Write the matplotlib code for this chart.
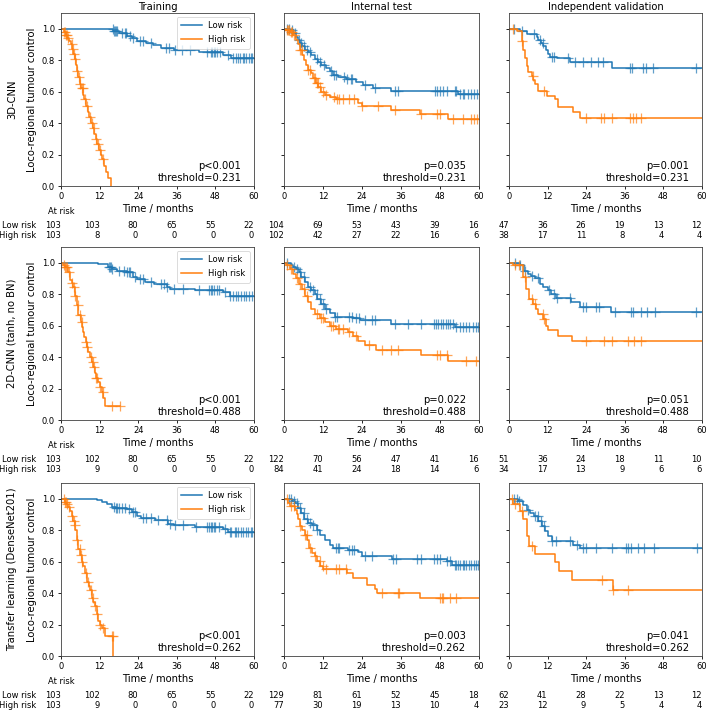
import numpy as np
import matplotlib
matplotlib.use("Agg")
import matplotlib.pyplot as plt
from matplotlib.transforms import blended_transform_factory

# Kaplan-Meier curves: step times (months), survival after
# each step, and censoring times. Last entry of *_t is where the curve ends.

# ---------------- 3D-CNN ----------------
cnn3d_train_low_t = [0, 16.3, 18.0, 20.5, 22.0, 23.5, 26.5, 28.5, 31.0, 35.0, 43.0, 50.5, 53.0, 60]
cnn3d_train_low_s = [1.0, 0.985, 0.97, 0.955, 0.94, 0.925, 0.91, 0.895, 0.875, 0.865, 0.855, 0.835, 0.815, 0.815]
cnn3d_train_low_cens = [16.2, 16.5, 16.8, 17.2, 17.5, 19.0, 19.8, 20.3, 21.5, 22.5, 24.5, 25.5, 28.0, 32.5,
                        33.5, 35.5, 37.5, 40.0, 45.5, 46.5, 47.0, 47.5, 48.0, 48.5, 49.5, 52.0, 53.5, 54.5,
                        55.0, 55.5, 56.5, 57.0, 57.5, 58.5, 59.0, 59.5]
cnn3d_train_high_t = [0, 1.0, 1.5, 2.0, 2.5, 3.0, 3.4, 3.8, 4.2, 4.6, 5.0, 5.4, 5.8, 6.3, 6.8, 7.3, 7.8, 8.3,
                      8.8, 9.3, 9.8, 10.3, 10.8, 11.3, 11.8, 12.3, 12.8, 13.4, 14.0, 14.6, 15.5]
cnn3d_train_high_s = [1.0, 0.98, 0.96, 0.94, 0.92, 0.9, 0.87, 0.84, 0.81, 0.77, 0.73, 0.69, 0.65, 0.62, 0.58,
                      0.55, 0.51, 0.47, 0.44, 0.40, 0.37, 0.33, 0.30, 0.27, 0.23, 0.20, 0.17, 0.13, 0.09,
                      0.05, 0.0]
cnn3d_train_high_cens = [1.0, 1.3, 1.6, 1.9, 2.2, 3.3, 3.7, 4.0, 4.4, 5.0, 5.6, 6.0, 6.4, 6.7, 7.5, 8.2,
                         9.0, 9.6, 10.2, 10.9, 11.5, 12.1, 13.1]

cnn3d_test_low_t = [0, 1.7, 2.8, 3.8, 4.3, 5.0, 5.6, 6.4, 7.4, 8.4, 9.4, 10.5, 11.5, 13.0, 14.0, 15.0, 16.6,
                    19.2, 22.3, 24.3, 27.4, 33.0, 53.5, 60]
cnn3d_test_low_s = [1.0, 0.99, 0.97, 0.95, 0.93, 0.91, 0.887, 0.866, 0.85, 0.834, 0.81, 0.79, 0.77, 0.75,
                    0.73, 0.706, 0.69, 0.68, 0.664, 0.643, 0.62, 0.604, 0.583, 0.583]
cnn3d_test_low_cens = [1.0, 1.5, 2.5, 3.3, 4.5, 5.2, 6.0, 7.0, 8.0, 10.0, 11.0, 12.2, 14.5, 15.5, 16.0,
                       18.5, 19.5, 20.5, 21.0, 25.0, 28.0, 34.0, 35.0, 46.5, 47.0, 48.0, 49.0, 50.0, 52.5,
                       53.0, 54.0, 55.0, 55.5, 56.5, 57.5, 58.5, 59.5]
cnn3d_test_high_t = [0, 0.7, 1.7, 2.8, 3.8, 4.3, 4.8, 5.6, 6.0, 6.7, 7.4, 8.4, 8.9, 9.7, 10.5, 11.5, 12.5,
                     14.0, 16.1, 22.8, 24.0, 33.0, 41.7, 50.5, 60]
cnn3d_test_high_s = [1.0, 0.99, 0.98, 0.96, 0.93, 0.90, 0.866, 0.834, 0.80, 0.77, 0.74, 0.717, 0.685, 0.653,
                     0.628, 0.60, 0.58, 0.564, 0.551, 0.526, 0.51, 0.483, 0.457, 0.426, 0.426]
cnn3d_test_high_cens = [0.8, 1.2, 1.6, 2.0, 2.5, 3.0, 5.0, 5.5, 7.5, 8.0, 9.2, 9.6, 10.0, 10.4, 11.0, 12.0,
                        13.0, 15.5, 16.2, 16.8, 18.0, 20.0, 21.5, 24.0, 29.0, 34.0, 42.0, 47.0, 48.0, 52.0,
                        55.0, 57.5, 58.5, 59.5]

cnn3d_val_low_t = [0, 3.4, 5.5, 8.6, 9.1, 9.8, 10.7, 11.5, 12.2, 12.7, 15.0, 19.0, 31.9, 60]
cnn3d_val_low_s = [1.0, 0.983, 0.966, 0.947, 0.93, 0.91, 0.887, 0.866, 0.84, 0.823, 0.813, 0.79, 0.749, 0.749]
cnn3d_val_low_cens = [1.5, 4.0, 7.8, 9.5, 10.5, 13.3, 14.0, 18.4, 20.5, 23.0, 25.6, 27.7, 29.2, 37.6, 38.3,
                      41.7, 42.7, 44.8, 58.2]
cnn3d_val_high_t = [0, 2.4, 3.9, 4.4, 4.9, 5.5, 6.0, 7.0, 7.6, 8.1, 9.1, 11.7, 14.3, 15.3, 20.0, 22.0, 60]
cnn3d_val_high_s = [1.0, 0.983, 0.92, 0.866, 0.813, 0.76, 0.728, 0.70, 0.674, 0.65, 0.606, 0.574, 0.55,
                    0.504, 0.472, 0.43, 0.43]
cnn3d_val_high_cens = [1.2, 4.0, 7.5, 10.8, 24.0, 28.5, 29.5, 32.0, 37.5, 38.5, 39.5, 41.0]

# ---------------- 2D-CNN ----------------
cnn2d_train_low_t = [0, 11.6, 14.5, 16.0, 17.5, 20.4, 22.5, 23.5, 26.0, 29.0, 32.8, 34.0, 41.7, 50.5, 52.5, 60]
cnn2d_train_low_s = [1.0, 0.99, 0.975, 0.96, 0.95, 0.94, 0.91, 0.895, 0.88, 0.866, 0.845, 0.834, 0.824,
                     0.813, 0.79, 0.79]
cnn2d_train_low_cens = [14.8, 15.2, 15.6, 16.0, 18.0, 19.5, 20.5, 21.0, 21.5, 23.0, 24.5, 25.5, 28.0, 31.0,
                        32.0, 33.0, 35.0, 38.0, 43.0, 46.0, 46.5, 47.0, 47.5, 48.5, 49.0, 51.0, 52.5, 53.5,
                        54.5, 55.0, 56.0, 57.0, 57.5, 58.5, 59.5]
cnn2d_train_high_t = [0, 0.7, 1.2, 2.3, 2.8, 3.3, 3.8, 4.4, 4.9, 5.4, 6.1, 6.5, 6.9, 7.3, 7.7, 8.1, 8.5,
                      9.0, 9.5, 10.0, 10.6, 11.0, 11.4, 12.0, 12.6, 13.2, 13.7, 18.3]
cnn2d_train_high_s = [1.0, 0.985, 0.97, 0.94, 0.89, 0.87, 0.845, 0.79, 0.73, 0.665, 0.62, 0.59, 0.56, 0.53,
                      0.495, 0.465, 0.43, 0.40, 0.367, 0.335, 0.30, 0.27, 0.24, 0.21, 0.18, 0.14, 0.09, 0.09]
cnn2d_train_high_cens = [0.8, 1.2, 1.6, 2.0, 2.5, 3.5, 4.0, 4.5, 5.2, 6.0, 6.4, 7.8, 8.2, 9.2, 9.8, 10.3,
                         11.0, 11.3, 12.0, 13.0, 15.9, 18.3]

cnn2d_test_low_t = [0, 2.3, 2.8, 3.8, 4.5, 5.3, 6.4, 7.4, 8.4, 9.4, 10.3, 11.3, 12.5, 14.0, 15.6, 21.2,
                    23.3, 33.0, 52.5, 60]
cnn2d_test_low_s = [1.0, 0.983, 0.972, 0.96, 0.94, 0.91, 0.877, 0.845, 0.824, 0.803, 0.77, 0.739, 0.707,
                    0.68, 0.658, 0.647, 0.633, 0.611, 0.59, 0.59]
cnn2d_test_low_cens = [1.0, 3.0, 4.0, 5.0, 6.0, 8.0, 9.0, 10.0, 11.0, 12.0, 13.0, 15.8, 16.2, 20.0, 21.0,
                       22.0, 23.0, 25.0, 27.0, 28.0, 34.0, 38.0, 42.0, 46.0, 46.8, 47.5, 48.2, 49.0, 49.8,
                       50.5, 51.2, 52.0, 53.0, 54.0, 55.0, 56.0, 57.0, 58.0, 59.0, 59.8]
cnn2d_test_high_t = [0, 0.7, 1.7, 2.8, 3.8, 4.5, 5.5, 6.4, 7.4, 8.4, 9.4, 11.0, 12.5, 14.0, 16.1, 19.7,
                     21.2, 22.8, 24.8, 28.4, 42.3, 50.5, 60]
cnn2d_test_high_s = [1.0, 0.983, 0.96, 0.93, 0.90, 0.866, 0.834, 0.79, 0.75, 0.707, 0.675, 0.648, 0.622,
                     0.60, 0.58, 0.558, 0.537, 0.505, 0.478, 0.442, 0.414, 0.378, 0.378]
cnn2d_test_high_cens = [1.0, 2.0, 4.0, 5.0, 6.0, 7.0, 10.0, 11.5, 12.0, 14.5, 15.0, 16.5, 17.0, 18.0, 20.0,
                        22.0, 26.0, 30.0, 33.0, 35.0, 47.0, 48.0, 50.0, 56.0, 59.0]

cnn2d_val_low_t = [0, 3.3, 4.6, 5.9, 6.9, 8.0, 9.5, 10.6, 12.1, 13.2, 14.7, 19.4, 22.0, 31.8, 60]
cnn2d_val_low_s = [1.0, 0.983, 0.95, 0.93, 0.915, 0.90, 0.866, 0.845, 0.824, 0.80, 0.775, 0.75, 0.72,
                   0.685, 0.685]
cnn2d_val_low_cens = [2.0, 3.5, 5.0, 7.0, 9.0, 12.5, 14.0, 15.0, 19.0, 23.0, 24.0, 27.0, 28.0, 33.0, 38.0,
                      38.5, 41.0, 43.0, 45.5, 58.0]
cnn2d_val_high_t = [0, 1.2, 4.4, 5.4, 6.2, 7.5, 8.5, 9.0, 10.6, 11.6, 12.2, 15.2, 19.7, 60]
cnn2d_val_high_s = [1.0, 0.983, 0.91, 0.834, 0.77, 0.74, 0.707, 0.675, 0.643, 0.60, 0.57, 0.533, 0.50, 0.50]
cnn2d_val_high_cens = [2.0, 3.0, 5.0, 7.0, 8.0, 10.5, 11.0, 24.0, 29.5, 32.0, 37.0, 39.0, 41.0]

# ---------------- Transfer learning (DenseNet201) ----------------
tl_train_low_t = [0, 11.1, 12.6, 14.2, 15.8, 17.0, 20.4, 22.0, 23.5, 25.0, 29.2, 33.4, 35.0, 41.7, 50.5, 52.0, 60]
tl_train_low_s = [1.0, 0.99, 0.98, 0.968, 0.95, 0.94, 0.936, 0.915, 0.89, 0.877, 0.866, 0.84, 0.83, 0.82,
                  0.81, 0.787, 0.787]
tl_train_low_cens = [16.5, 17.0, 17.5, 18.0, 19.0, 20.0, 21.0, 22.5, 23.0, 25.5, 26.5, 28.0, 30.0, 33.0,
                     34.0, 35.5, 38.0, 42.0, 45.5, 46.0, 46.5, 47.0, 47.5, 48.0, 49.0, 51.0, 52.5, 53.0,
                     54.0, 54.5, 55.0, 56.0, 56.5, 57.5, 58.0, 59.0, 59.5]
tl_train_high_t = [0, 1.2, 1.7, 2.3, 2.8, 3.3, 3.8, 4.2, 4.5, 4.9, 5.4, 5.9, 6.4, 6.9, 7.5, 8.2, 8.6, 9.0,
                   9.7, 10.1, 10.6, 11.1, 11.6, 12.1, 12.6, 13.7, 16.3]
tl_train_high_s = [1.0, 0.98, 0.965, 0.95, 0.92, 0.89, 0.86, 0.83, 0.80, 0.74, 0.68, 0.64, 0.60, 0.57, 0.53,
                   0.47, 0.445, 0.42, 0.37, 0.345, 0.32, 0.27, 0.22, 0.20, 0.18, 0.13, 0.0]
tl_train_high_cens = [1.0, 1.3, 1.6, 2.0, 2.4, 3.5, 4.0, 4.3, 5.0, 5.8, 6.2, 6.5, 7.8, 8.5, 9.3, 10.0,
                      10.7, 11.3, 12.2, 13.0, 15.8, 16.2]

tl_test_low_t = [0, 2.4, 3.4, 4.4, 5.1, 6.2, 7.5, 8.5, 10.0, 11.1, 12.6, 14.2, 15.2, 19.8, 22.9, 23.9, 33.1,
                 50.0, 51.6, 60]
tl_test_low_s = [1.0, 0.985, 0.974, 0.943, 0.91, 0.868, 0.847, 0.83, 0.804, 0.772, 0.736, 0.708, 0.687,
                 0.677, 0.66, 0.638, 0.617, 0.602, 0.58, 0.58]
tl_test_low_cens = [1.5, 2.0, 3.0, 4.0, 5.0, 6.0, 7.0, 8.0, 9.0, 10.0, 16.0, 16.5, 17.0, 20.0, 21.0, 21.5,
                    25.0, 27.0, 33.5, 34.5, 41.0, 42.0, 46.0, 47.0, 48.0, 50.0, 51.0, 52.5, 53.0, 53.5,
                    54.0, 55.0, 55.5, 56.0, 57.0, 57.5, 58.5, 59.0, 59.8]
tl_test_high_t = [0, 1.3, 1.8, 3.4, 3.9, 4.4, 4.9, 5.4, 6.5, 7.2, 7.8, 8.5, 9.5, 10.3, 11.1, 12.1, 19.3,
                  21.3, 25.4, 28.0, 28.5, 41.8, 60]
tl_test_high_s = [1.0, 0.974, 0.953, 0.93, 0.90, 0.868, 0.826, 0.80, 0.772, 0.74, 0.687, 0.655, 0.634,
                  0.602, 0.57, 0.553, 0.528, 0.496, 0.453, 0.426, 0.40, 0.368, 0.368]
tl_test_high_cens = [1.0, 2.0, 3.0, 5.0, 6.5, 7.0, 8.0, 9.5, 11.0, 12.0, 13.0, 16.0, 17.0, 19.0, 30.0,
                     35.0, 35.5, 48.0, 48.5, 49.0, 51.0, 53.0]

tl_val_low_t = [0, 2.9, 4.5, 5.5, 6.5, 7.8, 9.1, 10.2, 11.2, 12.2, 13.3, 20.0, 22.1, 60]
tl_val_low_s = [1.0, 0.985, 0.962, 0.93, 0.91, 0.89, 0.857, 0.826, 0.794, 0.762, 0.734, 0.708, 0.687, 0.687]
tl_val_low_cens = [1.5, 2.5, 3.0, 6.0, 8.0, 9.0, 10.0, 11.0, 13.5, 14.5, 19.0, 21.0, 23.0, 24.0, 27.0,
                   32.0, 36.5, 37.0, 38.0, 40.0, 42.0, 45.0, 58.5]
tl_val_high_t = [0, 1.3, 3.4, 4.5, 5.5, 6.3, 8.1, 14.3, 15.6, 19.7, 32.2, 60]
tl_val_high_s = [1.0, 0.964, 0.92, 0.868, 0.762, 0.698, 0.651, 0.596, 0.543, 0.485, 0.417, 0.417]
tl_val_high_cens = [1.0, 2.0, 4.0, 7.0, 29.0, 32.3, 37.0]

# numbers at risk at 0, 12, 24, 36, 48, 60 months
cnn3d_risk_low = [[103, 103, 80, 65, 55, 22], [104, 69, 53, 43, 39, 16], [47, 36, 26, 19, 13, 12]]
cnn3d_risk_high = [[103, 8, 0, 0, 0, 0], [102, 42, 27, 22, 16, 6], [38, 17, 11, 8, 4, 4]]
cnn2d_risk_low = [[103, 102, 80, 65, 55, 22], [122, 70, 56, 47, 41, 16], [51, 36, 24, 18, 11, 10]]
cnn2d_risk_high = [[103, 9, 0, 0, 0, 0], [84, 41, 24, 18, 14, 6], [34, 17, 13, 9, 6, 6]]
tl_risk_low = [[103, 102, 80, 65, 55, 22], [129, 81, 61, 52, 45, 18], [62, 41, 28, 22, 13, 12]]
tl_risk_high = [[103, 9, 0, 0, 0, 0], [77, 30, 19, 13, 10, 4], [23, 12, 9, 5, 4, 4]]

cnn3d_pvals = ["p<0.001", "p=0.035", "p=0.001"]
cnn2d_pvals = ["p<0.001", "p=0.022", "p=0.051"]
tl_pvals = ["p<0.001", "p=0.003", "p=0.041"]
thresholds = ["0.231", "0.488", "0.262"]

row_names = ["3D-CNN", "2D-CNN (tanh, no BN)", "Transfer learning (DenseNet201)"]
col_titles = ["Training", "Internal test", "Independent validation"]
time_ticks = [0, 12, 24, 36, 48, 60]

BLUE = "#1f77b4"
ORANGE = "#ff7f0e"

# assemble per-panel curves: (low_t, low_s, low_cens, high_t, high_s, high_cens)
curves = [
    [(cnn3d_train_low_t, cnn3d_train_low_s, cnn3d_train_low_cens,
      cnn3d_train_high_t, cnn3d_train_high_s, cnn3d_train_high_cens),
     (cnn3d_test_low_t, cnn3d_test_low_s, cnn3d_test_low_cens,
      cnn3d_test_high_t, cnn3d_test_high_s, cnn3d_test_high_cens),
     (cnn3d_val_low_t, cnn3d_val_low_s, cnn3d_val_low_cens,
      cnn3d_val_high_t, cnn3d_val_high_s, cnn3d_val_high_cens)],
    [(cnn2d_train_low_t, cnn2d_train_low_s, cnn2d_train_low_cens,
      cnn2d_train_high_t, cnn2d_train_high_s, cnn2d_train_high_cens),
     (cnn2d_test_low_t, cnn2d_test_low_s, cnn2d_test_low_cens,
      cnn2d_test_high_t, cnn2d_test_high_s, cnn2d_test_high_cens),
     (cnn2d_val_low_t, cnn2d_val_low_s, cnn2d_val_low_cens,
      cnn2d_val_high_t, cnn2d_val_high_s, cnn2d_val_high_cens)],
    [(tl_train_low_t, tl_train_low_s, tl_train_low_cens,
      tl_train_high_t, tl_train_high_s, tl_train_high_cens),
     (tl_test_low_t, tl_test_low_s, tl_test_low_cens,
      tl_test_high_t, tl_test_high_s, tl_test_high_cens),
     (tl_val_low_t, tl_val_low_s, tl_val_low_cens,
      tl_val_high_t, tl_val_high_s, tl_val_high_cens)],
]
risk_low = [cnn3d_risk_low, cnn2d_risk_low, tl_risk_low]
risk_high = [cnn3d_risk_high, cnn2d_risk_high, tl_risk_high]
pvals = [cnn3d_pvals, cnn2d_pvals, tl_pvals]


def plot_km(ax, t, s, cens, color, label):
    """Step curve plus '+' censor marks."""
    t = np.asarray(t)
    s = np.asarray(s)
    ax.step(t, s, where="post", color=color, lw=1.1, label=label)
    idx = np.searchsorted(t, cens, side="right") - 1
    ax.plot(cens, s[idx], ls="none", marker="+", ms=7.5, mew=0.9, color=color, alpha=0.7)


fig = plt.figure(figsize=(7.08, 7.11), dpi=100)

W, H = 708.0, 711.0
col_left = [61, 284, 509]
col_width = [193, 195, 193]
row_top = [13, 247, 483]
row_height = 173

for r in range(3):
    for c in range(3):
        rect = [col_left[c] / W, 1 - (row_top[r] + row_height) / H, col_width[c] / W, row_height / H]
        ax = fig.add_axes(rect)
        lt, ls_, lc, ht, hs, hc = curves[r][c]
        plot_km(ax, lt, ls_, lc, BLUE, "Low risk")
        plot_km(ax, ht, hs, hc, ORANGE, "High risk")

        ax.set_xlim(0, 60)
        ax.set_ylim(0, 1.1)
        ax.set_xticks(time_ticks)
        ax.set_yticks([0, 0.2, 0.4, 0.6, 0.8, 1.0])
        ax.set_yticklabels(["0.0", "0.2", "0.4", "0.6", "0.8", "1.0"])
        ax.tick_params(labelsize=6, length=2.5, width=0.6, pad=2)
        for sp in ax.spines.values():
            sp.set_linewidth(0.6)
            sp.set_color("0.25")
        ax.set_xlabel("Time / months", fontsize=7.2, labelpad=2)

        if r == 0:
            ax.set_title(col_titles[c], fontsize=7.2, pad=2)

        if c == 0:
            ax.set_ylabel("Loco-regional tumour control", fontsize=7.2, labelpad=3)
            leg = ax.legend(loc="upper right", fontsize=6, handlelength=2.5, borderpad=0.5,
                            labelspacing=0.6, framealpha=0.8)
            leg.get_frame().set_linewidth(0.6)
            mid = 1 - (row_top[r] + row_height / 2) / H
            fig.text(12 / W, mid, row_names[r], rotation=90, ha="center", va="center", fontsize=7.2)
        else:
            ax.tick_params(labelleft=False)

        ax.text(0.935, 0.02, pvals[r][c] + "\nthreshold=" + thresholds[r],
                transform=ax.transAxes, ha="right", va="bottom", fontsize=7.2,
                multialignment="right", linespacing=1.15)

        # at-risk table under each panel
        trans = blended_transform_factory(ax.transData, ax.transAxes)
        y_low = -39 / row_height
        y_high = -49 / row_height
        for x, lo, hi in zip(time_ticks, risk_low[r][c], risk_high[r][c]):
            ax.text(x, y_low, str(lo), transform=trans, ha="right", va="center", fontsize=6)
            ax.text(x, y_high, str(hi), transform=trans, ha="right", va="center", fontsize=6)
        if c == 0:
            ax.text(-13 / col_width[c], -26 / row_height, "At risk", transform=ax.transAxes,
                    ha="left", va="center", fontsize=6)
            ax.text(-25 / col_width[c], y_low, "Low risk", transform=ax.transAxes,
                    ha="right", va="center", fontsize=6)
            ax.text(-25 / col_width[c], y_high, "High risk", transform=ax.transAxes,
                    ha="right", va="center", fontsize=6)

fig.savefig("out.png", dpi=100)
